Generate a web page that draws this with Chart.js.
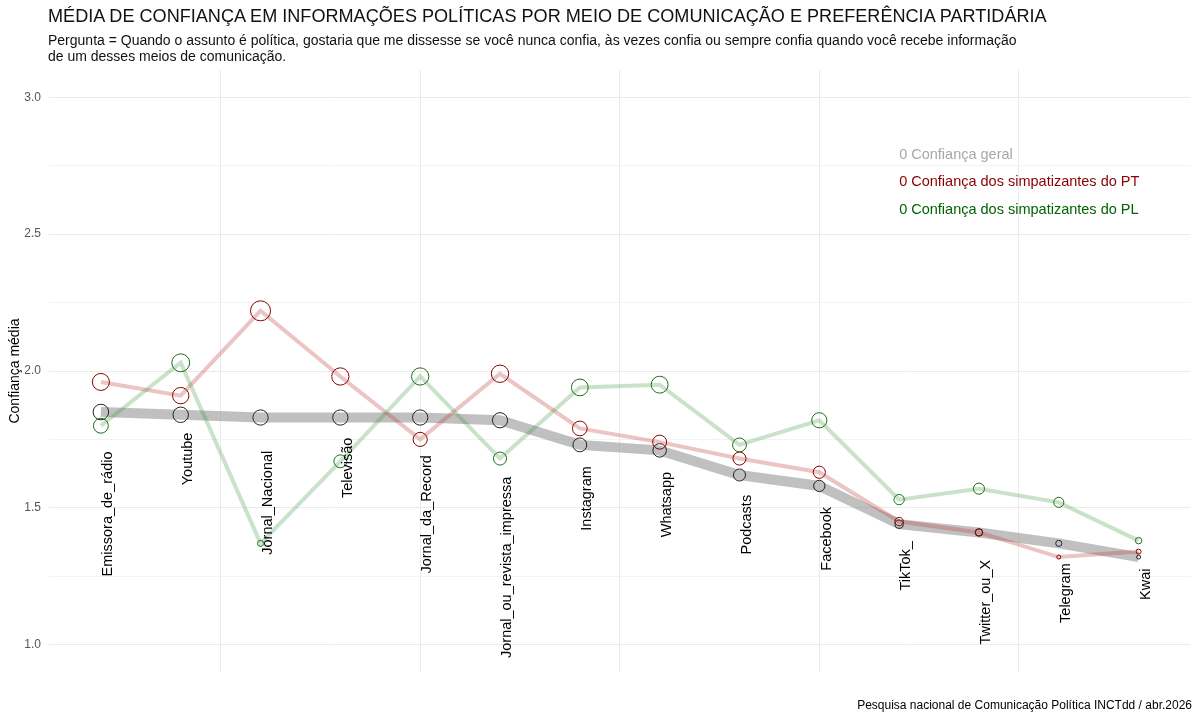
<!DOCTYPE html>
<html lang="pt-BR">
<head>
<meta charset="utf-8">
<title>Confiança em informações políticas</title>
<script src="https://cdn.jsdelivr.net/npm/chart.js@4.4.1/dist/chart.umd.min.js"></script>
<style>
  html, body { margin: 0; padding: 0; background: #fff; }
  #wrap { position: relative; width: 1200px; height: 718px; font-family: "Liberation Sans", Arial, sans-serif; }
  #titulo { position: absolute; left: 48px; top: 6px; font-size: 18.1px; color: #111; white-space: nowrap; }
  #subtitulo { position: absolute; left: 48px; top: 32px; font-size: 14px; line-height: 16px; color: #111; }
  canvas { position: absolute; left: 0; top: 0; }
</style>
</head>
<body>
<div id="wrap">
  <canvas id="confiancaChart" width="1200" height="718"></canvas>
  <div id="titulo">MÉDIA DE CONFIANÇA EM INFORMAÇÕES POLÍTICAS POR MEIO DE COMUNICAÇÃO E PREFERÊNCIA PARTIDÁRIA</div>
  <div id="subtitulo">Pergunta = Quando o assunto é política, gostaria que me dissesse se você nunca confia, às vezes confia ou sempre confia quando você recebe informação<br>de um desses meios de comunicação.</div>
</div>
<script>
// dados
const categories = ['Emissora_de_rádio', 'Youtube', 'Jornal_Nacional', 'Televisão', 'Jornal_da_Record',
  'Jornal_ou_revista_impressa', 'Instagram', 'Whatsapp', 'Podcasts', 'Facebook', 'TikTok_',
  'Twitter_ou_X', 'Telegram', 'Kwai'];
const confiancaGeral = [1.85, 1.84, 1.83, 1.83, 1.83, 1.82, 1.73, 1.71, 1.62, 1.58, 1.44, 1.41, 1.37, 1.32];
const confiancaPT = [1.96, 1.91, 2.22, 1.98, 1.75, 1.99, 1.79, 1.74, 1.68, 1.63, 1.45, 1.41, 1.32, 1.34];
const confiancaPL = [1.80, 2.03, 1.37, 1.67, 1.98, 1.68, 1.94, 1.95, 1.73, 1.82, 1.53, 1.57, 1.52, 1.38];

const yTicks = [1.0, 1.25, 1.5, 1.75, 2.0, 2.25, 2.5, 2.75, 3.0];
const xBreaks = [2.5, 5, 7.5, 10, 12.5];
const legendLabels = ['0 Confiança geral', '0 Confiança dos simpatizantes do PT', '0 Confiança dos simpatizantes do PL'];
const legendY = [2.79, 2.69, 2.59];
const legendX = 11;
const caption = 'Pesquisa nacional de Comunicação Política INCTdd / abr.2026';

const FONT = '"Liberation Sans", Arial, sans-serif';

function toPoints(values) {
  return values.map((v, i) => ({ x: i + 1, y: v }));
}

// tamanho do ponto proporcional ao valor (como o aes size do ggplot)
function radiusFor(ctx) {
  const v = ctx.raw ? ctx.raw.y : 1.32;
  return Math.sqrt(Math.max(4, 4 + 107 * (v - 1.32)));
}

const textPlugin = {
  id: 'textos',
  afterDatasetsDraw(chart) {
    const { ctx, scales: { x, y } } = chart;
    ctx.save();
    // nomes dos meios, girados, abaixo do ponto geral
    ctx.font = '14.5px ' + FONT;
    ctx.fillStyle = '#000';
    categories.forEach((name, i) => {
      const px = x.getPixelForValue(i + 1);
      const py = y.getPixelForValue(confiancaGeral[i]);
      const w = ctx.measureText(name).width;
      ctx.save();
      ctx.translate(px, py + 0.3 * w + 2);
      ctx.rotate(-Math.PI / 2);
      ctx.textAlign = 'right';
      ctx.textBaseline = 'top';
      ctx.fillText(name, 0, 0);
      ctx.restore();
    });
    // legenda anotada
    const colors = ['#a8a8a8', '#8b0000', '#006400'];
    ctx.textAlign = 'left';
    ctx.textBaseline = 'middle';
    legendLabels.forEach((t, i) => {
      ctx.fillStyle = colors[i];
      ctx.fillText(t, x.getPixelForValue(legendX), y.getPixelForValue(legendY[i]));
    });
    // fonte
    ctx.font = '12px ' + FONT;
    ctx.fillStyle = '#000';
    ctx.textAlign = 'right';
    ctx.fillText(caption, chart.width - 8, chart.height - 12);
    ctx.restore();
  }
};

new Chart(document.getElementById('confiancaChart').getContext('2d'), {
  type: 'line',
  data: {
    datasets: [
      {
        label: 'Confiança geral',
        data: toPoints(confiancaGeral),
        borderColor: 'rgba(150,150,150,0.6)',
        borderWidth: 10,
        pointBorderColor: '#222',
        pointBackgroundColor: 'rgba(0,0,0,0)',
        pointBorderWidth: 1,
        pointRadius: radiusFor,
        order: 3
      },
      {
        label: 'Confiança dos simpatizantes do PT',
        data: toPoints(confiancaPT),
        borderColor: 'rgba(190,60,60,0.3)',
        borderWidth: 4,
        pointBorderColor: '#8b0000',
        pointBackgroundColor: 'rgba(0,0,0,0)',
        pointBorderWidth: 1,
        pointRadius: radiusFor,
        order: 2
      },
      {
        label: 'Confiança dos simpatizantes do PL',
        data: toPoints(confiancaPL),
        borderColor: 'rgba(40,140,40,0.25)',
        borderWidth: 4,
        pointBorderColor: '#1a6e1a',
        pointBackgroundColor: 'rgba(0,0,0,0)',
        pointBorderWidth: 1,
        pointRadius: radiusFor,
        order: 1
      }
    ]
  },
  options: {
    responsive: false,
    animation: false,
    events: [],
    layout: { padding: { top: 70, right: 6, left: 0, bottom: 0 } },
    plugins: {
      legend: { display: false },
      tooltip: { enabled: false }
    },
    scales: {
      x: {
        type: 'linear',
        min: 0.35,
        max: 14.65,
        afterBuildTicks: (s) => { s.ticks = xBreaks.map(v => ({ value: v })); },
        afterFit: (s) => { s.height = 46; },
        ticks: { display: false },
        grid: { color: '#ebebeb', drawTicks: false },
        border: { display: false }
      },
      y: {
        min: 0.9,
        max: 3.1,
        afterBuildTicks: (s) => { s.ticks = yTicks.map(v => ({ value: v })); },
        afterFit: (s) => { s.width = 49; },
        ticks: {
          padding: 8,
          color: '#555',
          font: { family: FONT, size: 12 },
          callback: (v) => (Math.abs(v * 2 - Math.round(v * 2)) < 1e-6 ? v.toFixed(1) : '')
        },
        grid: {
          drawTicks: false,
          color: (c) => (Math.abs(c.tick.value * 2 - Math.round(c.tick.value * 2)) < 1e-6 ? '#ebebeb' : '#f3f3f3')
        },
        border: { display: false },
        title: {
          display: true,
          text: 'Confiança média',
          color: '#000',
          font: { family: FONT, size: 14 },
          padding: { top: 7, bottom: 0 }
        }
      }
    }
  },
  plugins: [textPlugin]
});
</script>
</body>
</html>
